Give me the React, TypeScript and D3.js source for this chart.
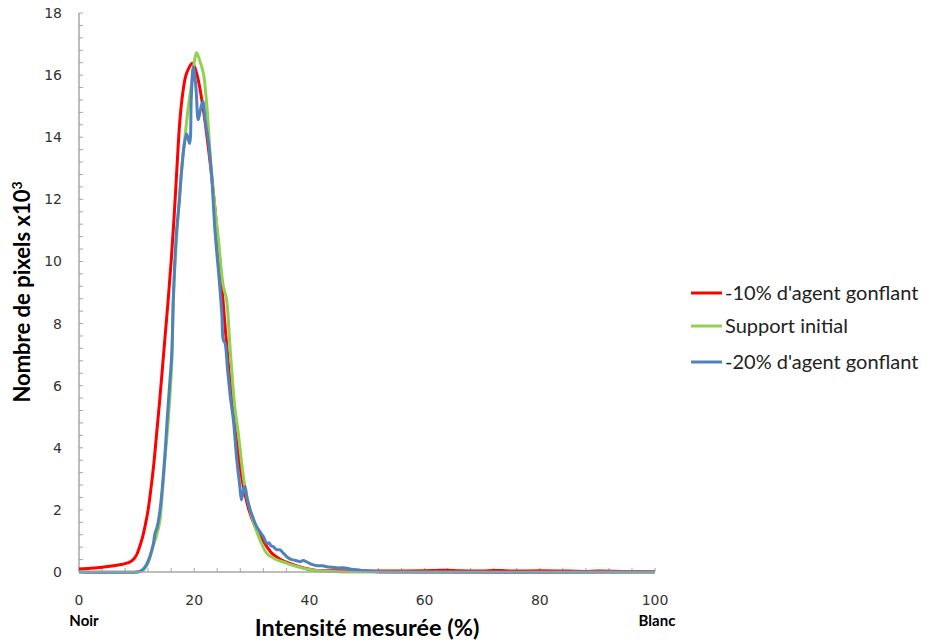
import React from "react";
import * as d3 from "d3";

const xTicks = [0, 20, 40, 60, 80, 100];
const yTicks = [0, 2, 4, 6, 8, 10, 12, 14, 16, 18];
const seriesNames = ["-10% d'agent gonflant", "Support initial", "-20% d'agent gonflant"];
const seriesColors = ["#FF0000", "#92D050", "#4F81BD"];

const redX = [0, 2, 4, 6, 8, 9, 9.5, 10, 10.5, 11, 11.5, 12, 12.5, 13, 13.5, 14, 14.5, 15, 15.5, 16, 16.5, 17, 17.5, 18, 18.5, 19, 19.7, 20.5, 21.5, 22.5, 23.5, 24.5, 25.5, 26.5, 27.5, 28.5, 29.5, 30.5, 31.5, 32.5, 33.5, 35, 37, 39, 41, 45, 50, 55, 60, 62, 64, 66, 70, 72, 74, 76, 80, 85, 88, 90, 95, 100];
const redY = [0.1, 0.12, 0.15, 0.2, 0.27, 0.34, 0.42, 0.55, 0.8, 1.1, 1.5, 2.0, 2.7, 3.5, 4.5, 5.5, 6.6, 7.7, 8.8, 10.0, 11.4, 13.0, 14.5, 15.4, 15.95, 16.2, 16.38, 16.0, 15.0, 13.6, 11.9, 9.9, 7.6, 5.6, 4.0, 2.8, 2.0, 1.5, 1.15, 0.85, 0.6, 0.4, 0.25, 0.13, 0.06, 0.04, 0.03, 0.03, 0.04, 0.05, 0.06, 0.04, 0.03, 0.05, 0.04, 0.03, 0.04, 0.03, 0.02, 0.03, 0.02, 0.02];

const greenX = [0, 10, 10.6, 11.2, 11.75, 12.3, 12.9, 13.5, 14, 14.5, 15, 15.5, 16.1, 16.4, 17, 17.8, 18.4, 19, 19.6, 20, 20.4, 20.9, 21.6, 22.2, 23, 24.2, 25.05, 25.6, 26.2, 27, 27.7, 28.8, 30.3, 31.5, 32.6, 34, 36.1, 38, 40.7, 44, 48, 100];
const greenY = [0, 0, 0.02, 0.08, 0.2, 0.45, 0.85, 1.2, 1.6, 2.6, 3.8, 4.9, 6.7, 8.9, 10.9, 12.9, 14.0, 15.0, 15.8, 16.4, 16.72, 16.5, 16.05, 15.0, 12.85, 10.7, 9.2, 8.8, 7.3, 5.4, 4.4, 2.75, 1.6, 1.0, 0.6, 0.42, 0.28, 0.17, 0.06, 0.02, 0, 0];

const blueX = [0, 10, 10.6, 11.2, 11.75, 12.3, 12.9, 13.2, 13.5, 14, 14.5, 15, 15.3, 15.8, 16.1, 16.4, 16.9, 17.4, 17.8, 18.3, 18.7, 19.2, 19.5, 19.85, 20.3, 20.7, 21.1, 21.5, 21.9, 22.5, 23, 23.6, 24.3, 24.8, 25.05, 25.35, 25.8, 26.3, 26.8, 27.4, 27.9, 28.2, 28.5, 28.8, 29.1, 29.4, 30.1, 30.85, 31.4, 32, 32.6, 33, 33.3, 33.7, 34.3, 34.9, 35.5, 36.1, 36.6, 37.2, 37.8, 38.4, 38.9, 39.5, 40.1, 40.7, 41.5, 42.3, 43, 44, 45, 45.9, 47, 48.8, 50, 51.7, 53, 100];
const blueY = [0, 0, 0.02, 0.1, 0.25, 0.5, 0.9, 1.25, 1.4, 1.9, 2.8, 4.0, 4.9, 6.2, 7.0, 8.9, 10.9, 11.9, 12.9, 13.8, 14.1, 13.8, 15.3, 16.27, 15.6, 14.56, 14.9, 15.15, 14.56, 13.8, 12.85, 11.0, 9.5, 8.3, 7.47, 7.37, 6.5, 5.6, 4.9, 3.6, 2.8, 2.32, 2.6, 2.75, 2.45, 2.2, 1.8, 1.46, 1.3, 1.14, 0.92, 0.94, 0.85, 0.82, 0.72, 0.71, 0.6, 0.49, 0.42, 0.39, 0.36, 0.33, 0.37, 0.33, 0.27, 0.23, 0.2, 0.2, 0.17, 0.15, 0.13, 0.14, 0.1, 0.06, 0.04, 0.01, 0, 0];

const seriesX = [redX, greenX, blueX];
const seriesY = [redY, greenY, blueY];

export default function App() {
  const left = 79, right = 655, top = 13, bottom = 572;
  const x = d3.scaleLinear().domain([0, 100]).range([left, right]);
  const y = d3.scaleLinear().domain([0, 18]).range([bottom, top]);
  const line = d3
    .line<[number, number]>()
    .x((d) => x(d[0]))
    .y((d) => y(d[1]))
    .curve(d3.curveCatmullRom.alpha(0.5));

  const xMinor = d3.range(0, 100.001, 4);
  const yMinor = d3.range(0, 18.001, 0.4);
  const axisColor = "#A6A6A6";
  const tickFont = "'DejaVu Sans', Verdana, sans-serif";
  const titleFont = "Lato, 'Open Sans', sans-serif";

  const order = [0, 1, 2];

  return (
    <svg width={932} height={640} style={{ position: "absolute", left: 0, top: 0, background: "#fff" }}>
      <rect x={0} y={0} width={932} height={640} fill="#fff" />
      <line x1={left} x2={left} y1={top} y2={bottom} stroke={axisColor} strokeWidth={1.5} />
      {yMinor.map((v, i) => (
        <line key={"ym" + i} x1={left} x2={left + 4} y1={y(v)} y2={y(v)} stroke={axisColor} strokeWidth={1} />
      ))}
      {xMinor.map((v, i) => (
        <line key={"xm" + i} x1={x(v)} x2={x(v)} y1={bottom} y2={bottom - 4} stroke={axisColor} strokeWidth={1} />
      ))}
      {yTicks.map((v) => (
        <text key={"yl" + v} x={left - 17} y={y(v) + 5} textAnchor="end" fontFamily={tickFont} fontSize={14} fill="#333">
          {v}
        </text>
      ))}
      {xTicks.map((v) => (
        <text key={"xl" + v} x={x(v)} y={605} textAnchor="middle" fontFamily={tickFont} fontSize={14} fill="#333">
          {v}
        </text>
      ))}
      {order.map((i) => (
        <path
          key={"s" + i}
          d={line(seriesX[i].map((xv, k) => [xv, seriesY[i][k]] as [number, number])) || ""}
          fill="none"
          stroke={seriesColors[i]}
          strokeWidth={3}
          strokeLinejoin="round"
        />
      ))}
      <line x1={left} x2={right} y1={bottom} y2={bottom} stroke={axisColor} strokeWidth={1.5} />
      <text
        transform={`translate(30,${292}) rotate(-90)`}
        textAnchor="middle"
        fontFamily={titleFont}
        fontWeight="bold"
        fontSize={22}
        fill="#000"
      >
        Nombre de pixels x10
        <tspan dy={-8} fontSize={14}>3</tspan>
      </text>
      <text x={367} y={636} textAnchor="middle" fontFamily={titleFont} fontWeight="bold" fontSize={23.5} fill="#000">
        Intensité mesurée (%)
      </text>
      <text x={84} y={626} textAnchor="middle" fontFamily={titleFont} fontWeight="bold" fontSize={15} fill="#000">
        Noir
      </text>
      <text x={657} y={626} textAnchor="middle" fontFamily={titleFont} fontWeight="bold" fontSize={15} fill="#000">
        Blanc
      </text>
      {seriesNames.map((n, i) => {
        const ly = [293, 326, 362][i];
        return (
          <g key={"lg" + i}>
            <line x1={691} x2={722} y1={ly} y2={ly} stroke={seriesColors[i]} strokeWidth={3} />
            <text x={725} y={ly + 7} fontFamily={titleFont} fontSize={20} fill="#222">
              {n}
            </text>
          </g>
        );
      })}
    </svg>
  );
}
